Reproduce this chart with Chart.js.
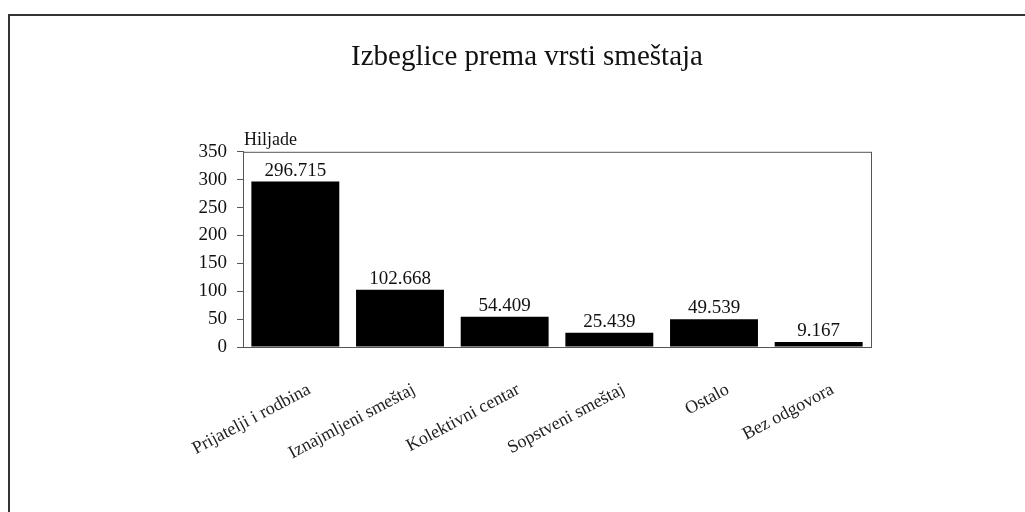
<!DOCTYPE html>
<html>
<head>
<meta charset="utf-8">
<script src="https://cdn.jsdelivr.net/npm/chart.js@4.4.1/dist/chart.umd.min.js"></script>
<style>
  html, body { margin: 0; padding: 0; background: #fff; overflow: hidden; }
  #wrap { position: relative; width: 1025px; height: 512px; }
  #frame { position: absolute; left: 8px; top: 14px; width: 1100px; height: 600px; border: 2px solid #333; box-sizing: border-box; pointer-events: none; }
  canvas { position: absolute; left: 0; top: 0; }
</style>
</head>
<body>
<div id="wrap">
  <div id="frame"></div>
  <canvas id="c" width="1025" height="512"></canvas>
</div>
<script>
const categories = ['Prijatelji i rodbina', 'Iznajmljeni smeštaj', 'Kolektivni centar', 'Sopstveni smeštaj', 'Ostalo', 'Bez odgovora'];
const values = [296.715, 102.668, 54.409, 25.439, 49.539, 9.167];
const valueLabels = ['296.715', '102.668', '54.409', '25.439', '49.539', '9.167'];
const yTicks = [0, 50, 100, 150, 200, 250, 300, 350];
const titleText = 'Izbeglice prema vrsti smeštaja';
const unitText = 'Hiljade';

const serif = '"Liberation Serif", "DejaVu Serif", serif';

// box around plot area, unit label and value labels above bars
const decorPlugin = {
    id: 'decor',
    afterDraw: (chart) => {
        const { ctx, chartArea: { left, right, top, bottom } } = chart;
        ctx.save();
        ctx.strokeStyle = '#555'; ctx.lineWidth = 1;
        ctx.strokeRect(left + 0.5, top + 0.5, right - left, bottom - top);

        ctx.fillStyle = '#111';
        ctx.font = '18px ' + serif;
        ctx.textAlign = 'left'; ctx.textBaseline = 'alphabetic';
        ctx.fillText(unitText, left + 1, top - 7);

        ctx.font = '19px ' + serif;
        ctx.textAlign = 'center'; ctx.textBaseline = 'alphabetic';
        chart.getDatasetMeta(0).data.forEach((bar, i) => {
            ctx.fillText(valueLabels[i], bar.x, bar.y - 6);
        });
        ctx.restore();
    }
};

new Chart(document.getElementById('c'), {
    type: 'bar',
    data: {
        labels: categories,
        datasets: [{ data: values, backgroundColor: '#000', borderWidth: 0, barPercentage: 0.84, categoryPercentage: 1 }]
    },
    options: {
        responsive: false, animation: false,
        layout: { padding: { left: 183, right: 154, top: 0, bottom: 0 } },
        plugins: {
            legend: { display: false },
            tooltip: { enabled: false },
            title: {
                display: true, text: titleText, color: '#111',
                font: { family: serif, size: 29, weight: 'normal', lineHeight: 1.2 },
                padding: { top: 40, bottom: 77 }
            }
        },
        scales: {
            x: {
                grid: { display: false },
                border: { display: true, color: '#555', width: 1 },
                ticks: {
                    color: '#222', font: { family: serif, size: 18 },
                    minRotation: 28, maxRotation: 28, padding: 24, labelOffset: 14, autoSkip: false
                },
                afterFit: (s) => { s.height = 165; }
            },
            y: {
                min: 0, max: 350,
                afterBuildTicks: (s) => { s.ticks = yTicks.map(v => ({ value: v })); },
                grid: { display: true, drawOnChartArea: false, drawTicks: true, tickLength: 6, color: '#555' },
                border: { display: true, color: '#555', width: 1 },
                ticks: { color: '#111', font: { family: serif, size: 19 }, padding: 10 },
                afterFit: (s) => { s.width = 60; }
            }
        }
    },
    plugins: [decorPlugin]
});
</script>
</body>
</html>
